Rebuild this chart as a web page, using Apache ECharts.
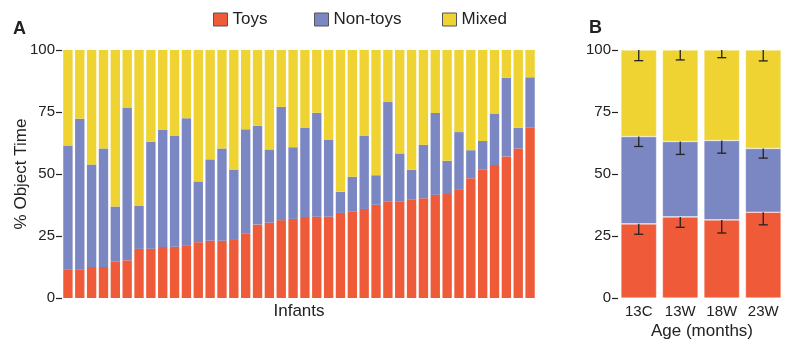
<!DOCTYPE html>
<html>
<head>
<meta charset="utf-8">
<script src="https://cdn.jsdelivr.net/npm/echarts@6/dist/echarts.min.js"></script>
<style>
  html, body { margin: 0; padding: 0; background: #fff; }
  #chart { width: 785px; height: 345px; }
</style>
</head>
<body>
<div id="chart"></div>
<script>
// Panel A: per-infant share of object time (%), sorted by toy share
const infants = Array.from({ length: 40 }, (_, i) => 'I' + (i + 1));
const infantToys = [11.6, 11.6, 12.5, 12.5, 14.8, 15.2, 19.8, 19.9, 20.6, 20.7,
  21.3, 22.5, 23.1, 23.1, 23.4, 26.1, 29.6, 30.4, 31.4, 31.9,
  32.7, 32.8, 32.8, 34.3, 35.0, 35.9, 37.6, 38.8, 39.0, 39.8,
  40.2, 41.6, 41.9, 43.6, 48.3, 51.7, 53.6, 57.1, 60.3, 68.9];
const infantNonToys = [49.9, 60.7, 41.3, 47.8, 22.1, 61.4, 17.3, 43.1, 47.2, 44.6,
  51.2, 24.5, 32.8, 37.2, 28.4, 41.9, 39.8, 29.5, 45.7, 28.9,
  35.9, 41.9, 30.9, 8.5, 13.9, 29.6, 11.9, 40.2, 19.3, 11.9,
  21.6, 33.0, 13.4, 23.3, 11.3, 11.6, 20.8, 31.7, 8.3, 20.1];
const infantMixed = [38.5, 27.7, 46.2, 39.7, 63.1, 23.4, 62.9, 37.0, 32.2, 34.7,
  27.5, 53.0, 44.1, 39.7, 48.2, 32.0, 30.6, 40.1, 22.9, 39.2,
  31.4, 25.3, 36.3, 57.2, 51.1, 34.5, 50.5, 21.0, 41.7, 48.3,
  38.2, 25.4, 44.7, 33.1, 40.4, 36.7, 25.6, 11.2, 31.4, 11.0];

// Panel B: group means by age, with standard errors
const ages = ['13C', '13W', '18W', '23W'];
const ageToys = [29.9, 32.7, 31.5, 34.6];
const ageNonToys = [35.2, 30.4, 32.0, 25.7];
const ageMixed = [34.9, 36.9, 36.5, 39.7];
const errToys = [4.2, 4.2, 5.3, 5.1];
const errNonToys = [4.0, 5.2, 5.1, 3.9];
const errMixed = [4.3, 4.0, 3.1, 4.4];

const yTicks = [0, 25, 50, 75, 100];

const RED = '#ef5b39';
const BLUE = '#7a87c3';
const YELLOW = '#eed333';
const INK = '#222';
const FONT = 'Liberation Sans';

const chart = echarts.init(document.getElementById('chart'), null, { renderer: 'canvas' });

function yAxisFor(gridIndex) {
  return {
    type: 'value', gridIndex, min: yTicks[0], max: yTicks[yTicks.length - 1], interval: 25,
    axisLine: { show: false },
    axisTick: { show: true, length: 6, lineStyle: { color: INK, width: 1.2 } },
    axisLabel: { color: INK, fontSize: 15, fontFamily: FONT, margin: 7 },
    splitLine: { show: false }
  };
}

const barA = (name, data, color) => ({
  name, type: 'bar', stack: 'a', xAxisIndex: 0, yAxisIndex: 0, data,
  barCategoryGap: '21%', itemStyle: { color }, emphasis: { disabled: true }
});
const barB = (name, data, color) => ({
  name, type: 'bar', stack: 'b', xAxisIndex: 1, yAxisIndex: 1, data,
  barCategoryGap: '14%', itemStyle: { color, borderColor: 'rgba(255,255,255,0.6)', borderWidth: 0.6 },
  emphasis: { disabled: true }
});

// Error bars hang downward from the top of each stacked segment
const errRows = [];
ages.forEach((a, i) => {
  const t1 = ageToys[i];
  const t2 = t1 + ageNonToys[i];
  const t3 = t2 + ageMixed[i];
  errRows.push([i, t1, errToys[i]], [i, t2, errNonToys[i]], [i, t3, errMixed[i]]);
});

const errorSeries = {
  type: 'custom', xAxisIndex: 1, yAxisIndex: 1, data: errRows, z: 10, silent: true,
  renderItem(params, api) {
    const x = api.value(0), top = api.value(1), e = api.value(2);
    const p0 = api.coord([x, top]);
    const p1 = api.coord([x, top - e]);
    const half = 4.5;
    const style = { stroke: INK, lineWidth: 1.3 };
    return {
      type: 'group', children: [
        { type: 'line', shape: { x1: p0[0], y1: p0[1], x2: p1[0], y2: p1[1] }, style },
        { type: 'line', shape: { x1: p1[0] - half, y1: p1[1], x2: p1[0] + half, y2: p1[1] }, style }
      ]
    };
  }
};

const legendItem = (name, left) => ({
  data: [name], left, top: 11, padding: 0, itemWidth: 14, itemHeight: 13, itemGap: 5,
  icon: 'rect', selectedMode: false,
  itemStyle: { borderColor: '#555', borderWidth: 1 },
  textStyle: { color: INK, fontSize: 17, fontFamily: FONT }
});

chart.setOption({
  animation: false,
  textStyle: { fontFamily: FONT },
  legend: [legendItem('Toys', 213), legendItem('Non-toys', 314), legendItem('Mixed', 442)],
  grid: [
    { left: 62, right: 249, top: 50, bottom: 47 },
    { left: 618, right: 1, top: 50, bottom: 47 }
  ],
  xAxis: [
    { type: 'category', gridIndex: 0, data: infants,
      axisLine: { show: false }, axisTick: { show: false }, axisLabel: { show: false } },
    { type: 'category', gridIndex: 1, data: ages,
      axisLine: { show: false }, axisTick: { show: false },
      axisLabel: { color: INK, fontSize: 15, fontFamily: FONT, margin: 6 } }
  ],
  yAxis: [yAxisFor(0), yAxisFor(1)],
  series: [
    barA('Toys', infantToys, RED),
    barA('Non-toys', infantNonToys, BLUE),
    barA('Mixed', infantMixed, YELLOW),
    barB('Toys', ageToys, RED),
    barB('Non-toys', ageNonToys, BLUE),
    barB('Mixed', ageMixed, YELLOW),
    errorSeries
  ],
  graphic: [
    { type: 'text', left: 13, top: 20, style: { text: 'A', fontSize: 18, fontWeight: 'bold', fill: INK, fontFamily: FONT } },
    { type: 'text', left: 589, top: 19, style: { text: 'B', fontSize: 18, fontWeight: 'bold', fill: INK, fontFamily: FONT } },
    { type: 'text', x: 21, y: 174, rotation: Math.PI / 2,
      style: { text: '% Object Time', fontSize: 17, fill: INK, fontFamily: FONT, align: 'center', verticalAlign: 'middle' } },
    { type: 'text', x: 299, y: 311,
      style: { text: 'Infants', fontSize: 17, fill: INK, fontFamily: FONT, align: 'center', verticalAlign: 'middle' } },
    { type: 'text', x: 702, y: 331,
      style: { text: 'Age (months)', fontSize: 17, fill: INK, fontFamily: FONT, align: 'center', verticalAlign: 'middle' } }
  ]
});
</script>
</body>
</html>
